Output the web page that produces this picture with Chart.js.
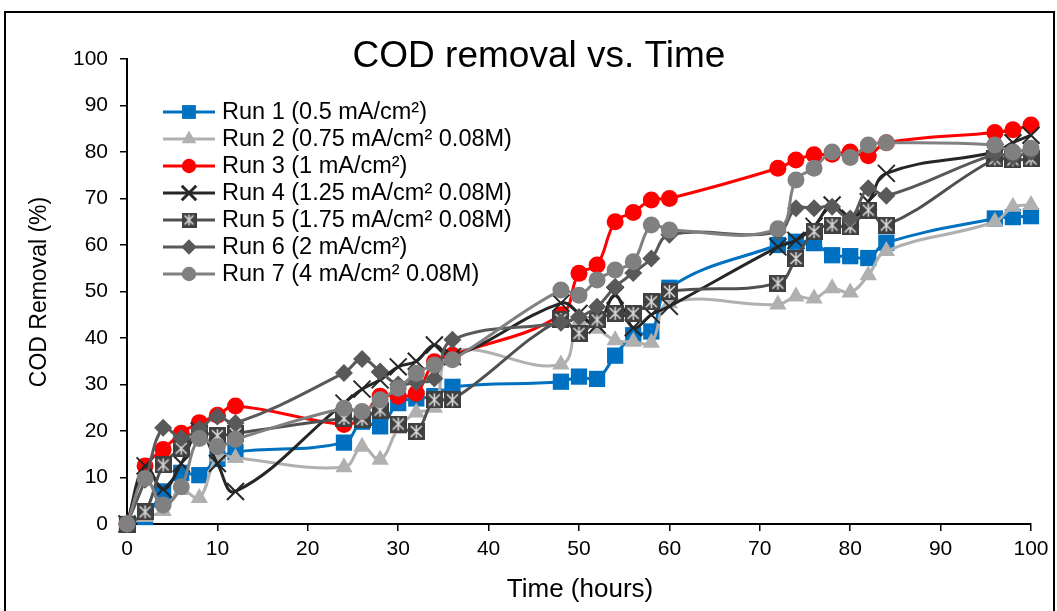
<!DOCTYPE html>
<html>
<head>
<meta charset="utf-8">
<script src="https://cdn.jsdelivr.net/npm/chart.js@4.4.1/dist/chart.umd.min.js"></script>
<style>
  html, body { margin: 0; padding: 0; background: #fff; }
  canvas { display: block; }
</style>
</head>
<body>
<canvas id="codChart" width="1057" height="611"></canvas>
<script>
// sampling times (hours), shared by every run
const hours = [0, 2, 4, 6, 8, 10, 12, 24, 26, 28, 30, 32, 34, 36, 48, 50, 52, 54, 56, 58, 60, 72, 74, 76, 78, 80, 82, 84, 96, 98, 100];

// COD removal (%) per run
const run1 = [0, 1.5, 7, 11, 10.5, 14, 15.5, 17.5, 22, 21, 26, 27, 27.5, 29.5, 30.6, 31.7, 31.2, 36.2, 40.6, 41.4, 50.8, 60, 60.7, 60.4, 57.8, 57.6, 57.2, 60.5, 65.7, 66, 66.2];
const run2 = [0, 1.5, 2.8, 7.3, 5.6, 14.5, 14.2, 12.2, 16.6, 13.8, 20.5, 24, 25, 37, 34.3, 43.5, 42, 39.5, 39.2, 39, 47.5, 47.2, 48.9, 48.5, 50.7, 49.8, 53.5, 58.7, 65, 68.2, 68.6];
const run3 = [0, 12.5, 16, 19.5, 21.8, 23.4, 25.4, 21.4, 23, 27.5, 27.5, 28.1, 34.9, 36.3, 45, 53.9, 55.7, 65, 67, 69.7, 70, 76.5, 78.3, 79.4, 79.5, 80, 79.2, 82, 84.2, 84.8, 85.8];
const run4 = [0, 12.5, 7.5, 13, 20, 13, 7, 26, 29, 31, 33.8, 35, 38.5, 36, 47.5, 45.3, 42.8, 49.2, 42.2, 45, 46.8, 59.6, 61, 64, 68.6, 65.7, 69.3, 75.4, 80, 82, 83.6];
const run5 = [0, 2.6, 12.7, 16.3, 19.5, 19, 19.5, 22.7, 22.5, 24.5, 21.5, 19.9, 26.7, 26.7, 44, 41, 43.9, 45.3, 45.3, 47.8, 50, 51.8, 57.1, 62.9, 64.3, 63.9, 67.5, 64.3, 78.5, 78.3, 78.5];
const run6 = [0, 9.5, 20.7, 18.5, 20.5, 23.1, 21.7, 32.5, 35.5, 32.8, 30, 30.5, 31.3, 39.6, 43.3, 44.5, 46.7, 51, 54, 57.1, 62.2, 62.8, 67.9, 67.9, 68.2, 65.7, 72.2, 70.6, 79.5, 79, 80];
const run7 = [0, 9.8, 4.1, 8, 18.4, 16.6, 18.2, 24.9, 24.2, 26.7, 29.2, 32.4, 34.2, 35.3, 50.3, 49.2, 52.5, 54.6, 56.4, 64.3, 63.2, 63.5, 74, 76.5, 80, 78.8, 81.5, 82, 81.5, 80, 80.8];

const runLabels = [
    'Run 1 (0.5 mA/cm²)',
    'Run 2 (0.75 mA/cm² 0.08M)',
    'Run 3 (1 mA/cm²)',
    'Run 4 (1.25 mA/cm² 0.08M)',
    'Run 5 (1.75 mA/cm² 0.08M)',
    'Run 6 (2 mA/cm²)',
    'Run 7 (4 mA/cm² 0.08M)'
];

const xTicks = [0, 10, 20, 30, 40, 50, 60, 70, 80, 90, 100];
const yTicks = [0, 10, 20, 30, 40, 50, 60, 70, 80, 90, 100];

const FONT = "'Liberation Sans', Arial, sans-serif";

// dark square with a light asterisk, used for run 5
function hatchedSquare(size) {
    const c = document.createElement('canvas');
    c.width = size;
    c.height = size;
    const g = c.getContext('2d');
    g.fillStyle = '#404040';
    g.fillRect(0, 0, size, size);
    g.strokeStyle = '#d9d9d9';
    g.lineWidth = 1.6;
    const p = 3, q = size - 3, m = size / 2;
    g.beginPath();
    g.moveTo(p, p); g.lineTo(q, q);
    g.moveTo(q, p); g.lineTo(p, q);
    g.moveTo(m, 2); g.lineTo(m, size - 2);
    g.stroke();
    return c;
}

const hatchBig = hatchedSquare(17);
const hatchSmall = hatchedSquare(15);

const styles = [
    { color: '#0070c0', point: 'rect', radius: 11.5 },
    { color: '#b0b0b0', point: 'triangle', radius: 10 },
    { color: '#ff0000', point: 'circle', radius: 8.5 },
    { color: '#262626', point: 'crossRot', radius: 12 },
    { color: '#505050', point: hatchBig, radius: 8.5 },
    { color: '#595959', point: 'rectRot', radius: 9 },
    { color: '#808080', point: 'circle', radius: 8.5 }
];

const series = [run1, run2, run3, run4, run5, run6, run7];

function toPoints(values) {
    return hours.map((h, i) => ({ x: h, y: values[i] }));
}

const datasets = series.map((vals, i) => ({
    label: runLabels[i],
    data: toPoints(vals),
    borderColor: styles[i].color,
    backgroundColor: styles[i].color,
    borderWidth: 3,
    tension: 0.4,
    clip: false,
    pointStyle: styles[i].point,
    pointRadius: styles[i].radius,
    pointBorderWidth: styles[i].point === 'crossRot' ? 2 : 0,
    pointBorderColor: styles[i].color,
    pointBackgroundColor: styles[i].color,
    order: 6 - i // later runs drawn on top
}));

// frame, title, legend and axis titles
const decorations = {
    id: 'decorations',
    beforeDraw(chart) {
        const ctx = chart.ctx;
        ctx.save();
        ctx.fillStyle = '#fff';
        ctx.fillRect(0, 0, chart.width, chart.height);
        ctx.strokeStyle = '#000';
        ctx.lineWidth = 2;
        ctx.strokeRect(5, 12, 1049, 700);
        ctx.restore();
    },
    afterDraw(chart) {
        const ctx = chart.ctx;
        ctx.save();
        ctx.fillStyle = '#000';
        ctx.textBaseline = 'middle';

        ctx.textAlign = 'center';
        ctx.font = '37px ' + FONT;
        ctx.fillText('COD removal vs. Time', 539, 57);

        ctx.font = '26px ' + FONT;
        ctx.fillText('Time (hours)', 580, 590);

        ctx.save();
        ctx.translate(40, 292);
        ctx.rotate(-Math.PI / 2);
        ctx.font = '23px ' + FONT;
        ctx.fillText('COD Removal (%)', 0, 0);
        ctx.restore();

        // legend
        ctx.textAlign = 'left';
        ctx.font = '23.5px ' + FONT;
        runLabels.forEach((label, i) => {
            const y = 112 + i * 27;
            const st = styles[i];
            ctx.strokeStyle = st.color;
            ctx.lineWidth = 3;
            ctx.beginPath();
            ctx.moveTo(163, y);
            ctx.lineTo(215, y);
            ctx.stroke();
            ctx.fillStyle = st.color;
            const opts = {
                pointStyle: st.point === hatchBig ? hatchSmall : st.point,
                radius: st.radius * 0.85,
                rotation: 0,
                borderWidth: st.point === 'crossRot' ? 2 : 0
            };
            Chart.helpers.drawPoint(ctx, opts, 189, y);
            ctx.fillStyle = '#000';
            ctx.fillText(label, 222, y + 1);
        });
        ctx.restore();
    }
};

new Chart(document.getElementById('codChart'), {
    type: 'line',
    data: { datasets: datasets },
    options: {
        responsive: false,
        animation: false,
        events: [],
        layout: { padding: { left: 0, top: 59, right: 26, bottom: 0 } },
        plugins: {
            legend: { display: false },
            title: { display: false },
            tooltip: { enabled: false }
        },
        scales: {
            x: {
                type: 'linear',
                min: 0,
                max: 100,
                afterFit: scale => { scale.height = 87; },
                afterBuildTicks: scale => { scale.ticks = xTicks.map(v => ({ value: v })); },
                ticks: { color: '#000', font: { family: FONT, size: 21 }, padding: 6, maxRotation: 0, autoSkip: false },
                grid: { drawOnChartArea: false, color: '#000', lineWidth: 1.5, tickLength: 7 },
                border: { color: '#000', width: 2 }
            },
            y: {
                min: 0,
                max: 100,
                afterFit: scale => { scale.width = 127; },
                afterBuildTicks: scale => { scale.ticks = yTicks.map(v => ({ value: v })); },
                ticks: { color: '#000', font: { family: FONT, size: 21 }, padding: 12 },
                grid: { drawOnChartArea: false, color: '#000', lineWidth: 1.5, tickLength: 7 },
                border: { color: '#000', width: 2 }
            }
        }
    },
    plugins: [decorations]
});
</script>
</body>
</html>
